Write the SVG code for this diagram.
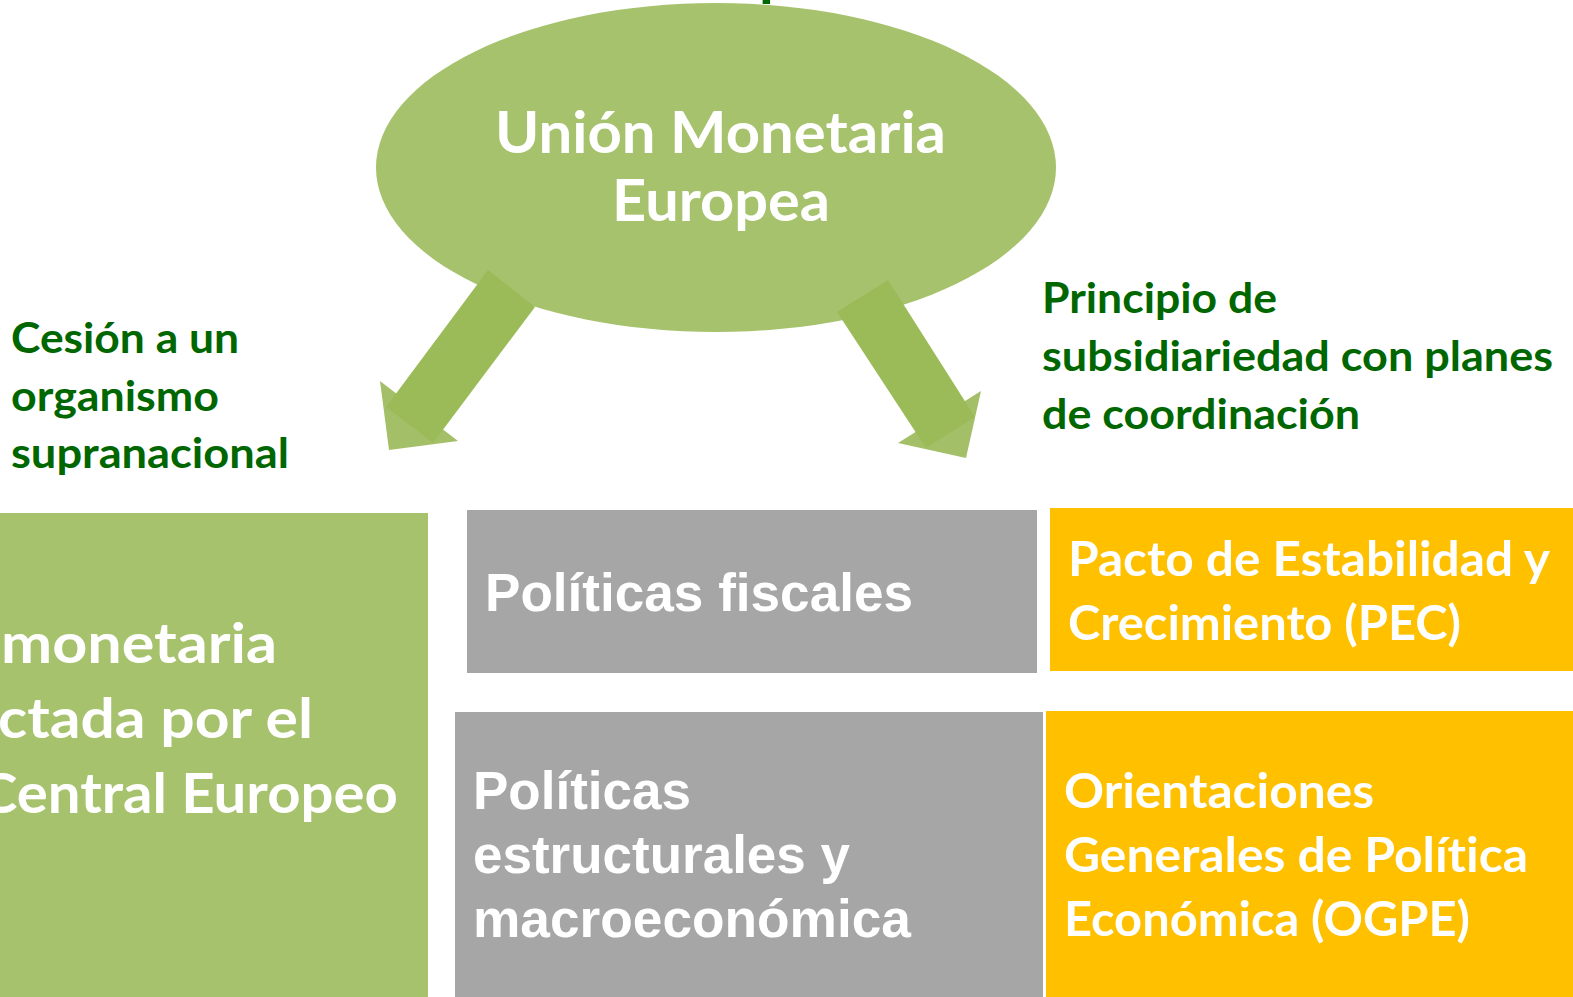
<svg xmlns="http://www.w3.org/2000/svg" width="1573" height="997" viewBox="0 0 1573 997">
<style>
text{font-variant-ligatures:none}
.cal{font-family:Lato,"Open Sans","Liberation Sans",sans-serif;font-weight:700}
.ari{font-family:"Liberation Sans",Arial,sans-serif;font-weight:700;font-size:53px;fill:#fff}
.w{fill:#fff}
.dg{fill:#006600;font-size:42px}
.green{fill:#A6C26C}
.gray{fill:#A6A6A6}
.orange{fill:#FFC000}
.shaft{fill:#9BBB59}
.head{fill:#A3C068}
</style>
<g id="title-fragment">
<text class="cal" x="759" y="-6" font-size="60" fill="#006600">p</text>
</g>
<g id="node-umE">
<ellipse class="green" cx="716" cy="167.5" rx="340" ry="164.5"/>
<text class="cal w" font-size="57" x="495" y="153" textLength="451" lengthAdjust="spacingAndGlyphs">Unión Monetaria</text>
<text class="cal w" font-size="57" x="612" y="221" textLength="218" lengthAdjust="spacingAndGlyphs">Europea</text>
</g>
<g id="connectors">
<polygon class="head" points="380,381 389,450 458,441"/>
<polygon class="shaft" points="488,270 535,307 433,443 386,407"/>
<polygon class="head" points="898,443 981,391 966,458"/>
<polygon class="shaft" points="837,312 888,280 975,417 926,448"/>
</g>
<g id="label-left">
<text class="cal dg" x="11" y="353" textLength="228" lengthAdjust="spacingAndGlyphs">Cesión a un</text>
<text class="cal dg" x="11" y="411" textLength="208" lengthAdjust="spacingAndGlyphs">organismo</text>
<text class="cal dg" x="11" y="468" textLength="278" lengthAdjust="spacingAndGlyphs">supranacional</text>
</g>
<g id="label-right">
<text class="cal dg" x="1042" y="313" textLength="235" lengthAdjust="spacingAndGlyphs">Principio de</text>
<text class="cal dg" x="1042" y="371" textLength="511" lengthAdjust="spacingAndGlyphs">subsidiariedad con planes</text>
<text class="cal dg" x="1042" y="429" textLength="318" lengthAdjust="spacingAndGlyphs">de coordinación</text>
</g>
<g id="node-bce">
<rect class="green" x="0" y="513" width="428" height="484"/>
<text class="cal w" font-size="56" x="1" y="663" textLength="276" lengthAdjust="spacingAndGlyphs">monetaria</text>
<text class="cal w" font-size="56" x="-2" y="738" textLength="315" lengthAdjust="spacingAndGlyphs">ctada por el</text>
<text class="cal w" font-size="56" x="-21" y="813" textLength="419" lengthAdjust="spacingAndGlyphs">Central Europeo</text>
</g>
<g id="node-fiscales">
<rect class="gray" x="467" y="510" width="570" height="163"/>
<text class="ari" x="485" y="611" textLength="428" lengthAdjust="spacingAndGlyphs">Políticas fiscales</text>
</g>
<g id="node-pec">
<rect class="orange" x="1050" y="508" width="523" height="163"/>
<text class="cal w" font-size="48" x="1068" y="576" textLength="482" lengthAdjust="spacingAndGlyphs">Pacto de Estabilidad y</text>
<text class="cal w" font-size="48" x="1068" y="640" textLength="393" lengthAdjust="spacingAndGlyphs">Crecimiento (PEC)</text>
</g>
<g id="node-estructurales">
<rect class="gray" x="455" y="712" width="588" height="285"/>
<text class="ari" x="473" y="809" textLength="218" lengthAdjust="spacingAndGlyphs">Políticas</text>
<text class="ari" x="473" y="873" textLength="377" lengthAdjust="spacingAndGlyphs">estructurales y</text>
<text class="ari" x="473" y="937" textLength="438" lengthAdjust="spacingAndGlyphs">macroeconómica</text>
</g>
<g id="node-ogpe">
<rect class="orange" x="1046" y="711" width="527" height="286"/>
<text class="cal w" font-size="48" x="1064" y="808" textLength="310" lengthAdjust="spacingAndGlyphs">Orientaciones</text>
<text class="cal w" font-size="48" x="1064" y="872" textLength="464" lengthAdjust="spacingAndGlyphs">Generales de Política</text>
<text class="cal w" font-size="48" x="1064" y="936" textLength="406" lengthAdjust="spacingAndGlyphs">Económica (OGPE)</text>
</g>
</svg>
